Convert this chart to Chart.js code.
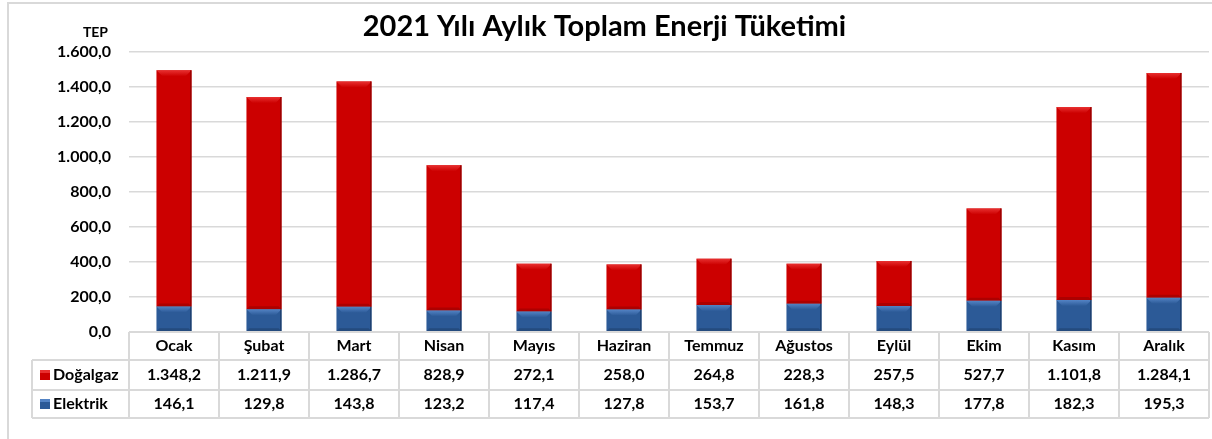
<!DOCTYPE html>
<html>
<head>
<meta charset="utf-8">
<script src="https://cdn.jsdelivr.net/npm/chart.js@4/dist/chart.umd.min.js"></script>
<style>
  html, body { margin: 0; padding: 0; background: #fff; }
</style>
</head>
<body>
<canvas id="chart" width="1212" height="439"></canvas>
<script>
"use strict";

// veriler
const months = ["Ocak", "Şubat", "Mart", "Nisan", "Mayıs", "Haziran", "Temmuz", "Ağustos", "Eylül", "Ekim", "Kasım", "Aralık"];
const dogalgaz = [1348.2, 1211.9, 1286.7, 828.9, 272.1, 258.0, 264.8, 228.3, 257.5, 527.7, 1101.8, 1284.1];
const elektrik = [146.1, 129.8, 143.8, 123.2, 117.4, 127.8, 153.7, 161.8, 148.3, 177.8, 182.3, 195.3];
const yMin = 0, yMax = 1600, yStep = 200;
const unitLabel = "TEP";
const titleText = "2021 Yılı Aylık Toplam Enerji Tüketimi";

const FONT = "Lato, 'Open Sans', sans-serif";
const GRID = "#d9d9d9";
const RED = { body: "#cc0000", light: "#e83030", dark: "#8e0000" };
const BLUE = { body: "#2c5a97", light: "#5383c4", dark: "#1c3b66" };

// 1348.2 -> "1.348,2"
function fmt(v) {
	const parts = Number(v).toFixed(1).split(".");
	return parts[0].replace(/\B(?=(\d{3})+(?!\d))/g, ".") + "," + parts[1];
}

// kabartma efekti (excel bevel)
function bevel(ctx, el, c) {
	const l = el.x - el.width / 2, r = el.x + el.width / 2;
	const t = Math.min(el.y, el.base), b = Math.max(el.y, el.base);
	const d = Math.min(6, (b - t) / 3);
	ctx.save();
	const g = ctx.createLinearGradient(0, t, 0, t + d);
	g.addColorStop(0, c.light);
	g.addColorStop(1, c.body);
	ctx.fillStyle = g;
	ctx.beginPath();
	ctx.moveTo(l, t); ctx.lineTo(r, t); ctx.lineTo(r - d, t + d); ctx.lineTo(l + d, t + d);
	ctx.closePath(); ctx.fill();
	ctx.fillStyle = c.dark;
	ctx.globalAlpha = 0.5;
	ctx.beginPath();
	ctx.moveTo(l, b); ctx.lineTo(r, b); ctx.lineTo(r - d / 2, b - d / 2); ctx.lineTo(l + d / 2, b - d / 2);
	ctx.closePath(); ctx.fill();
	ctx.globalAlpha = 0.8;
	ctx.fillRect(r - 1.5, t, 1.5, b - t);
	ctx.restore();
}

const rowH = [28, 30, 28];   // başlık, doğalgaz, elektrik
const tableLeft = 32;

const tablePlugin = {
	id: "dataTable",
	beforeDraw(chart) {
		const ctx = chart.ctx;
		ctx.save();
		ctx.strokeStyle = GRID;
		ctx.lineWidth = 2;
		ctx.strokeRect(8, 3, 1240, 460);
		ctx.restore();
	},
	afterDatasetsDraw(chart) {
		const ctx = chart.ctx;
		const colors = [BLUE, RED];
		chart.data.datasets.forEach((ds, i) => {
			chart.getDatasetMeta(i).data.forEach(el => bevel(ctx, el, colors[i]));
		});
	},
	afterDraw(chart) {
		const { ctx, chartArea: a, scales: { x, y } } = chart;
		const colW = x.getPixelForValue(1) - x.getPixelForValue(0);
		const y0 = a.bottom, y1 = y0 + rowH[0], y2 = y1 + rowH[1], y3 = y2 + rowH[2];
		const left = x.getPixelForValue(0) - colW / 2;
		const right = left + colW * months.length;

		ctx.save();
		ctx.strokeStyle = GRID;
		ctx.lineWidth = 2;
		ctx.beginPath();
		ctx.moveTo(left, y0); ctx.lineTo(right, y0);
		[y1, y2, y3].forEach(yy => { ctx.moveTo(tableLeft, yy); ctx.lineTo(right, yy); });
		ctx.moveTo(tableLeft, y1); ctx.lineTo(tableLeft, y3);
		for (let k = 0; k <= months.length; k++) {
			ctx.moveTo(left + k * colW, y0); ctx.lineTo(left + k * colW, y3);
		}
		ctx.stroke();

		ctx.fillStyle = "#000";
		ctx.font = "bold 16px " + FONT;
		ctx.textAlign = "center";
		ctx.textBaseline = "middle";
		months.forEach((m, i) => {
			const cx = x.getPixelForValue(i);
			ctx.fillText(m, cx, (y0 + y1) / 2);
			ctx.fillText(fmt(dogalgaz[i]), cx, (y1 + y2) / 2);
			ctx.fillText(fmt(elektrik[i]), cx, (y2 + y3) / 2);
		});

		// satır başlıkları + renk kutuları
		const rows = [["Doğalgaz", RED, (y1 + y2) / 2], ["Elektrik", BLUE, (y2 + y3) / 2]];
		rows.forEach(r => {
			const cy = r[2];
			ctx.fillStyle = r[1].body;
			ctx.fillRect(40, cy - 5, 10, 10);
			ctx.fillStyle = r[1].light;
			ctx.fillRect(40, cy - 5, 10, 3);
			ctx.fillStyle = "#000";
			ctx.textAlign = "left";
			ctx.fillText(r[0], 53, cy);
		});

		// birim
		ctx.font = "bold 14px " + FONT;
		ctx.textAlign = "right";
		ctx.fillText(unitLabel, y.right - 21, a.top - 19);
		ctx.restore();
	}
};

new Chart(document.getElementById("chart"), {
	type: "bar",
	data: {
		labels: months,
		datasets: [
			{ label: "Elektrik", data: elektrik, backgroundColor: BLUE.body },
			{ label: "Doğalgaz", data: dogalgaz, backgroundColor: RED.body }
		]
	},
	options: {
		responsive: false,
		animation: false,
		layout: { padding: { left: 0, right: 3, top: 0, bottom: 107 } },
		datasets: { bar: { categoryPercentage: 1, barPercentage: 0.39 } },
		plugins: {
			legend: { display: false },
			tooltip: { enabled: false },
			title: {
				display: true,
				text: titleText,
				color: "#000",
				font: { family: FONT, size: 29, weight: "bold" },
				padding: { top: 9, bottom: 8 }
			}
		},
		scales: {
			x: { stacked: true, display: false },
			y: {
				stacked: true,
				min: yMin, max: yMax,
				afterFit: s => { s.width = 129; },
				border: { display: false },
				grid: { color: GRID, lineWidth: 1.5, drawTicks: false },
				ticks: {
					stepSize: yStep,
					padding: 18,
					color: "#000",
					font: { family: FONT, size: 16, weight: "bold" },
					callback: v => fmt(v)
				}
			}
		}
	},
	plugins: [tablePlugin]
});
</script>
</body>
</html>
